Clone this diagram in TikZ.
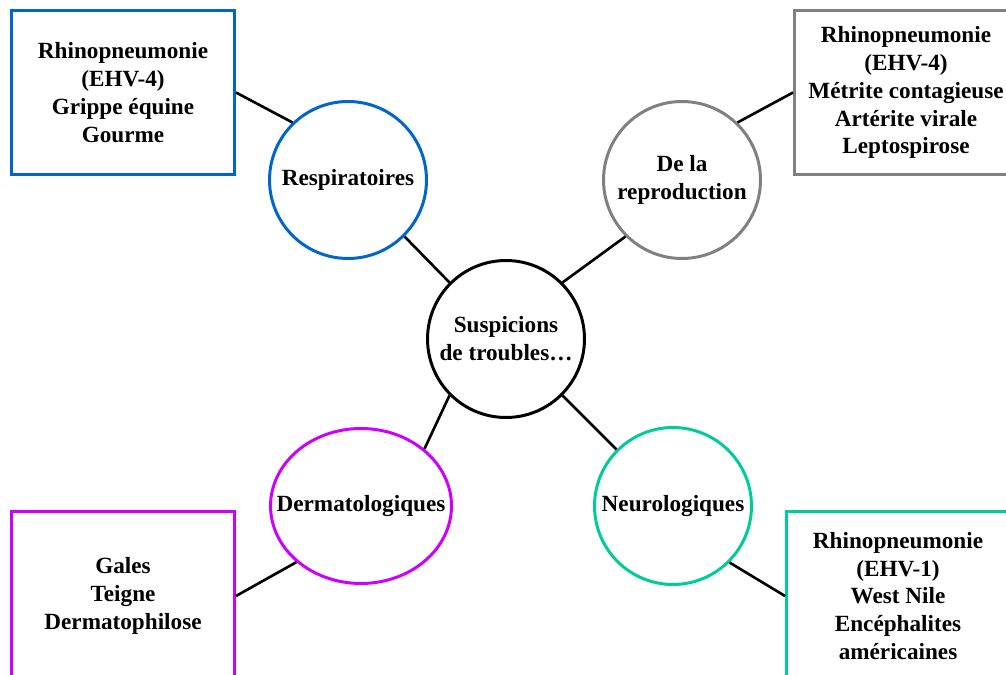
\documentclass[tikz,border=0pt]{standalone}
\usepackage{fontspec}
\setmainfont{Liberation Serif}
\usepackage{tikz}
\usetikzlibrary{shapes.geometric, positioning}
\definecolor{respblue}{RGB}{0, 102, 204}
\definecolor{reprogray}{RGB}{128, 128, 128}
\definecolor{dermpurple}{RGB}{204, 0, 255}
\definecolor{neuroteal}{RGB}{0, 204, 153}

\begin{document}
\begin{tikzpicture}[x=0.02cm, y=-0.02cm,
    every node/.style={font=\fontsize{13.2}{15.9}\selectfont\bfseries, align=center},
    bubble/.style={draw, ellipse, line width=1.7pt, minimum width=3.14cm, minimum height=3.14cm, inner sep=0pt},
    listbox/.style={draw, rectangle, line width=1.7pt, minimum width=4.46cm, minimum height=3.28cm},
    link/.style={line width=1.5pt}]
    \clip[use as bounding box] (0,0) rectangle (1006,675);

    % Centre
    \node[bubble, draw=black, label={center:Suspicions\\de troubles…}] (susp) at (506,339) {};

    % Categories
    \node[bubble, draw=respblue, label={center:Respiratoires}] (resp) at (348,180) {};
    \node[bubble, draw=reprogray, label={center:De la\\reproduction}] (repro) at (682,180) {};
    \node[bubble, draw=dermpurple, minimum width=3.62cm, minimum height=3.1cm, label={center:Dermatologiques}] (derm) at (361,506) {};
    \node[bubble, draw=neuroteal, label={center:Neurologiques}] (neuro) at (673,506) {};

    % Disease lists
    \node[listbox, draw=respblue] (respbox) at (123,92.5) {Rhinopneumonie\\(EHV-4)\\Grippe équine\\Gourme};
    \node[listbox, draw=reprogray] (reprobox) at (906,92.5) {Rhinopneumonie\\(EHV-4)\\Métrite contagieuse\\Artérite virale\\Leptospirose};
    \node[listbox, draw=dermpurple, minimum height=3.4cm] (dermbox) at (123,596) {Gales\\Teigne\\Dermatophilose};
    \node[listbox, draw=neuroteal, minimum height=3.4cm] (neurobox) at (898,596) {Rhinopneumonie\\(EHV-1)\\West Nile\\Encéphalites\\américaines};

    % Links
    \draw[link] (susp.135) -- (resp.-45);
    \draw[link] (susp.45) -- (repro.225);
    \draw[link] (susp.225) -- (derm.42);
    \draw[link] (susp.-45) -- (neuro.135);
    \draw[link] (respbox.east) -- (resp.134);
    \draw[link] (reprobox.west) -- (repro.46);
    \draw[link] (dermbox.east) -- (derm.221);
    \draw[link] (neurobox.west) -- (neuro.-45);
\end{tikzpicture}
\end{document}
